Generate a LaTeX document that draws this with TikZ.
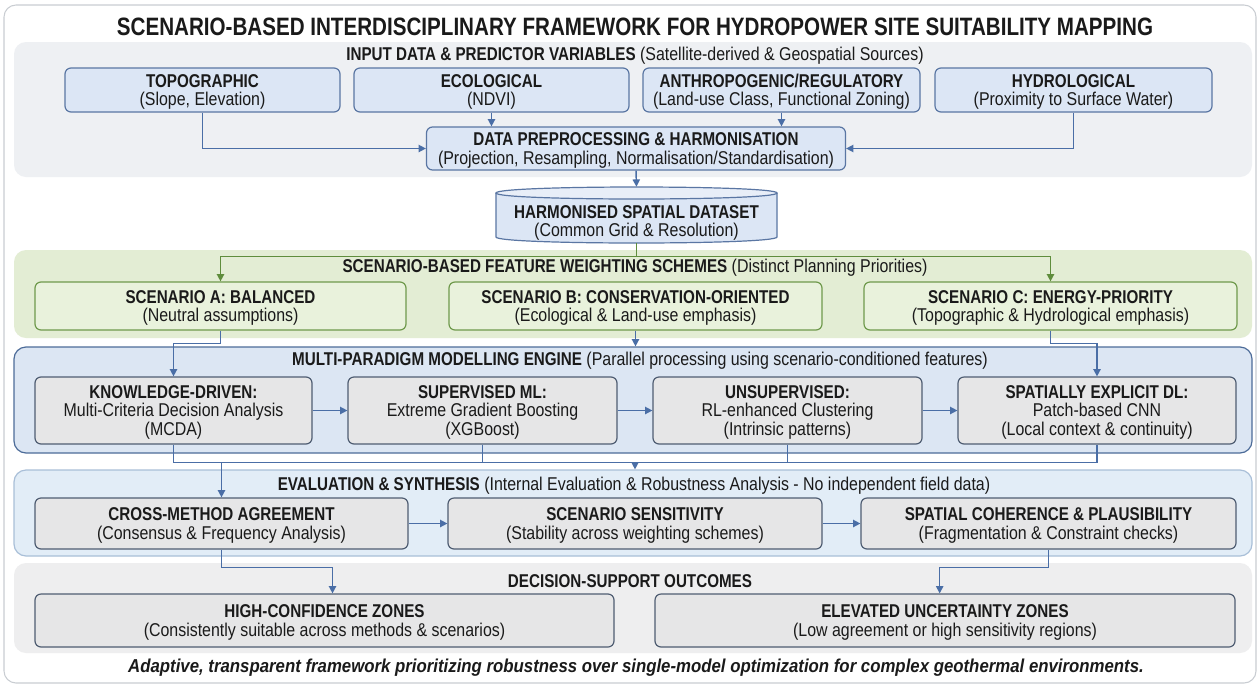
\documentclass[tikz,border=0pt]{standalone}
\usepackage{fontspec}
\setmainfont{Liberation Sans}[UprightFeatures={FakeStretch=0.86}, BoldFeatures={FakeStretch=0.82}, BoldItalicFeatures={FakeStretch=0.9}]
\usetikzlibrary{arrows.meta,calc}
\definecolor{framegray}{HTML}{C9CDD2}
\definecolor{inpanel}{HTML}{EEF0F3}
\definecolor{bluebox}{HTML}{DCE6F5}
\definecolor{bluetop}{HTML}{E8EEF8}
\definecolor{blueedge}{HTML}{5A76A3}
\definecolor{greenpanel}{HTML}{E3EDD4}
\definecolor{greenbox}{HTML}{E9F2DC}
\definecolor{greenedge}{HTML}{6F9A4C}
\definecolor{greenline}{HTML}{5F8D3C}
\definecolor{enginepanel}{HTML}{DCE6F3}
\definecolor{engineedge}{HTML}{4D6C99}
\definecolor{graybox}{HTML}{E6E6E7}
\definecolor{grayedge}{HTML}{4F5D72}
\definecolor{evalpanel}{HTML}{E2EDF7}
\definecolor{evaledge}{HTML}{A9BFD8}
\definecolor{decpanel}{HTML}{EEEEEF}
\definecolor{arrowblue}{HTML}{4A6EA6}
\definecolor{textdark}{HTML}{1A1A1A}
\newcommand{\fs}{\fontsize{13.9pt}{13.6pt}\selectfont}
\tikzset{
  every node/.style={text=textdark},
  box/.style={rounded corners=4.5pt, line width=0.9pt, align=center, inner sep=0pt, font=\fs, text depth=0pt},
  inbox/.style={box, draw=blueedge, fill=bluebox},
  scenbox/.style={box, draw=greenedge, fill=greenbox},
  graybx/.style={box, draw=grayedge, fill=graybox},
  panelbg/.style={rounded corners=9pt, inner sep=0pt, minimum width=1238*0.75pt},
  hdr/.style={font=\fs, inner sep=0pt},
  conn/.style={draw=arrowblue, line width=1.1pt, -{Triangle[length=5.5pt,width=5.5pt]}},
  gconn/.style={draw=greenline, line width=1.1pt, -{Triangle[length=5.5pt,width=5.5pt]}},
  pline/.style={draw=arrowblue, line width=1.1pt},
  gline/.style={draw=greenline, line width=1.1pt},
}
\begin{document}
\begin{tikzpicture}[x=0.75pt,y=-0.75pt]
\useasboundingbox (0,0) rectangle (1259,686);
\draw[framegray, fill=white, rounded corners=9pt, line width=0.8pt] (4,5) rectangle (1256,683);
% title
\node[font=\fontsize{18.85pt}{20pt}\selectfont\bfseries, inner sep=0pt] (title) at (635,27) {SCENARIO-BASED INTERDISCIPLINARY FRAMEWORK FOR HYDROPOWER SITE SUITABILITY MAPPING};
% panels
\node[panelbg, fill=inpanel, minimum height=135*0.75pt] (inp) at (633,109.5) {};
\node[panelbg, fill=greenpanel, minimum height=88*0.75pt] (green) at (633,294) {};
\node[panelbg, fill=enginepanel, draw=engineedge, line width=0.9pt, minimum height=106*0.75pt] (engine) at (633,400) {};
\node[panelbg, fill=evalpanel, draw=evaledge, line width=0.9pt, minimum height=86*0.75pt] (eval) at (633,513) {};
\node[panelbg, fill=decpanel, minimum height=90*0.75pt] (dec) at (633,608) {};
% headers
\node[hdr] (h1) at (635,56) {\textbf{INPUT DATA \& PREDICTOR VARIABLES} (Satellite-derived \& Geospatial Sources)};
\node[hdr] (h2) at (635,268) {\textbf{SCENARIO-BASED FEATURE WEIGHTING SCHEMES} (Distinct Planning Priorities)};
\node[hdr] (h3) at (640,361) {\textbf{MULTI-PARADIGM MODELLING ENGINE} (Parallel processing using scenario-conditioned features)};
\node[hdr] (h4) at (634,486) {\textbf{EVALUATION \& SYNTHESIS} (Internal Evaluation \& Robustness Analysis - No independent field data)};
\node[hdr] (h5) at (630,581) {\textbf{DECISION-SUPPORT OUTCOMES}};
% input boxes
\node[inbox, minimum width=275*0.75pt, minimum height=44*0.75pt] (topo) at (202.5,90) {\textbf{TOPOGRAPHIC}\\(Slope, Elevation)};
\node[inbox, minimum width=275*0.75pt, minimum height=44*0.75pt] (eco) at (491.5,90) {\textbf{ECOLOGICAL}\\(NDVI)};
\node[inbox, minimum width=277*0.75pt, minimum height=44*0.75pt] (anth) at (781.5,90) {\textbf{ANTHROPOGENIC/REGULATORY}\\(Land-use Class, Functional Zoning)};
\node[inbox, minimum width=277*0.75pt, minimum height=44*0.75pt] (hydro) at (1073.5,90) {\textbf{HYDROLOGICAL}\\(Proximity to Surface Water)};
\node[inbox, minimum width=419*0.75pt, minimum height=43*0.75pt] (pre) at (636,148.5) {\textbf{DATA PREPROCESSING \& HARMONISATION}\\(Projection, Resampling, Normalisation/Standardisation)};
% cylinder
\node[inner sep=0pt, minimum width=281*0.75pt, minimum height=56*0.75pt] (data) at (636.5,215) {};
\fill[bluebox] (496,193) -- (496,237) .. controls (496,245) and (777,245) .. (777,237) -- (777,193) -- cycle;
\draw[blueedge, line width=0.9pt] (496,193) -- (496,237) .. controls (496,245) and (777,245) .. (777,237) -- (777,193);
\filldraw[fill=bluetop, draw=blueedge, line width=0.9pt] (496,193) .. controls (496,185) and (777,185) .. (777,193) .. controls (777,201) and (496,201) .. (496,193) -- cycle;
\node[font=\fs, align=center, inner sep=0pt, text depth=0pt] (datatext) at (636.5,221) {\textbf{HARMONISED SPATIAL DATASET}\\(Common Grid \& Resolution)};
% scenario boxes
\node[scenbox, minimum width=371*0.75pt, minimum height=48*0.75pt] (sa) at (220.5,306) {\textbf{SCENARIO A: BALANCED}\\(Neutral assumptions)};
\node[scenbox, minimum width=373*0.75pt, minimum height=48*0.75pt] (sb) at (635.5,306) {\textbf{SCENARIO B: CONSERVATION-ORIENTED}\\(Ecological \& Land-use emphasis)};
\node[scenbox, minimum width=373*0.75pt, minimum height=48*0.75pt] (sc) at (1050.5,306) {\textbf{SCENARIO C: ENERGY-PRIORITY}\\(Topographic \& Hydrological emphasis)};
% method boxes
\node[graybx, minimum width=277*0.75pt, minimum height=67*0.75pt] (kd) at (173.5,410.5) {\textbf{KNOWLEDGE-DRIVEN:}\\Multi-Criteria Decision Analysis\\(MCDA)};
\node[graybx, minimum width=269*0.75pt, minimum height=67*0.75pt] (sml) at (482.5,410.5) {\textbf{SUPERVISED ML:}\\Extreme Gradient Boosting\\(XGBoost)};
\node[graybx, minimum width=269*0.75pt, minimum height=67*0.75pt] (uns) at (787.5,410.5) {\textbf{UNSUPERVISED:}\\RL-enhanced Clustering\\(Intrinsic patterns)};
\node[graybx, minimum width=278*0.75pt, minimum height=67*0.75pt] (sdl) at (1097,410.5) {\textbf{SPATIALLY EXPLICIT DL:}\\Patch-based CNN\\(Local context \& continuity)};
% evaluation boxes
\node[graybx, minimum width=373*0.75pt, minimum height=51*0.75pt] (cma) at (221.5,523.5) {\textbf{CROSS-METHOD AGREEMENT}\\(Consensus \& Frequency Analysis)};
\node[graybx, minimum width=374*0.75pt, minimum height=51*0.75pt] (ssn) at (635,523.5) {\textbf{SCENARIO SENSITIVITY}\\(Stability across weighting schemes)};
\node[graybx, minimum width=375*0.75pt, minimum height=51*0.75pt] (scp) at (1048.5,523.5) {\textbf{SPATIAL COHERENCE \& PLAUSIBILITY}\\(Fragmentation \& Constraint checks)};
% decision boxes
\node[graybx, minimum width=579*0.75pt, minimum height=53*0.75pt] (hcz) at (324.5,620.5) {\textbf{HIGH-CONFIDENCE ZONES}\\(Consistently suitable across methods \& scenarios)};
\node[graybx, minimum width=580*0.75pt, minimum height=53*0.75pt] (euz) at (945,620.5) {\textbf{ELEVATED UNCERTAINTY ZONES}\\(Low agreement or high sensitivity regions)};
% footer
\node[font=\fontsize{14pt}{15pt}\selectfont\bfseries\itshape, inner sep=0pt] (foot) at (636,668) {Adaptive, transparent framework prioritizing robustness over single-model optimization for complex geothermal environments.};
% connectors: inputs
\draw[conn] (topo.south) |- (pre.west);
\draw[conn] (eco.south) -- (eco.south |- pre.north);
\draw[conn] (anth.south) -- (anth.south |- pre.north);
\draw[conn] (hydro.south) |- (pre.east);
\draw[conn] (pre.south) -- (data.north);
% green split
\draw[gline] (data.south) -- ++(0,13) coordinate (gsplit);
\draw[gconn] (gsplit) -| (sa.north);
\draw[gconn] (gsplit) -| (sc.north);
% scenarios to engine
\draw[conn] (sa.south) -- ++(0,13) -| (kd.north);
\draw[conn] (sb.south) -- (sb.south |- engine.north);
\draw[conn] (sc.south) -- ++(0,13) -| (sdl.north);
% between methods
\draw[conn] (kd.east) -- (sml.west);
\draw[conn] (sml.east) -- (uns.west);
\draw[conn] (uns.east) -- (sdl.west);
% engine to evaluation
\draw[pline] (kd.south) -- ++(0,18) coordinate (mb) -- (mb -| sdl.south) -- (sdl.south);
\draw[pline] (sml.south) -- (sml.south |- mb);
\draw[pline] (uns.south) -- (uns.south |- mb);
\draw[conn] (mb -| cma.north) -- (cma.north);
\draw[conn] (mb -| ssn.north) -- (ssn.north |- eval.north);
% between evaluation boxes
\draw[conn] (cma.east) -- (ssn.west);
\draw[conn] (ssn.east) -- (scp.west);
% evaluation to decisions
\draw[conn] (cma.south) -- ++(0,18) -| ([xshift=6pt]hcz.north);
\draw[conn] (scp.south) -- ++(0,18) -| ([xshift=-4pt]euz.north);
\end{tikzpicture}
\end{document}
